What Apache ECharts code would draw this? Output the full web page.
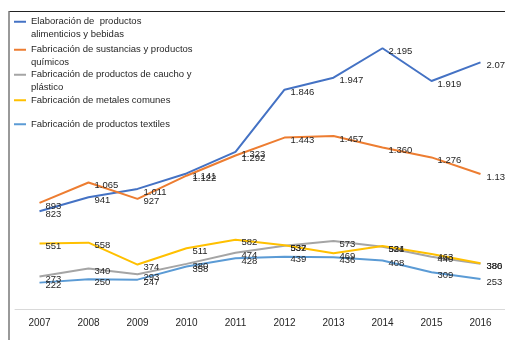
<!DOCTYPE html>
<html><head><meta charset="utf-8">
<script src="https://cdn.jsdelivr.net/npm/echarts@6/dist/echarts.min.js"></script>
<style>html,body{margin:0;padding:0;background:#fff}#c{width:505px;height:340px}</style>
</head><body><div id="c"></div>
<script>
var years = ['2007','2008','2009','2010','2011','2012','2013','2014','2015','2016'];
var alimentos = [823, 941, 1011, 1141, 1323, 1846, 1947, 2195, 1919, 2076];
var quimicos = [893, 1065, 927, 1122, 1292, 1443, 1457, 1360, 1276, 1136];
var caucho = [273, 340, 293, 380, 474, 532, 573, 524, 440, 380];
var metales = [551, 558, 374, 511, 582, 537, 469, 531, 463, 386];
var textiles = [222, 250, 247, 358, 428, 439, 436, 408, 309, 253];
var names = ['Elaboración de  productos\nalimenticios y bebidas',
  'Fabricación de sustancias y productos\nquímicos',
  'Fabricación de productos de caucho y\nplástico',
  'Fabricación de metales comunes',
  'Fabricación de productos textiles'];
var colors = ['#4472C4', '#ED7D31', '#A5A5A5', '#FFC000', '#5B9BD5'];
var datasets = [alimentos, quimicos, caucho, metales, textiles];
var FONT = 'Liberation Sans';
function fmt(v){ if (v >= 1000){ var r = String(v % 1000); while (r.length < 3) r = '0' + r; return Math.floor(v/1000) + '.' + r; } return String(v); }
var legendTops = [3, 31, 56, 94, 118];
var legends = names.map(function(n, i){
  var two = n.indexOf('\n') >= 0;
  return {
    data: [{name: n, icon: 'rect'}], left: 14, top: legendTops[i], orient: 'vertical', padding: 0,
    itemWidth: 12, itemHeight: 2, selectedMode: false,
    formatter: function(name){ return two ? ' \n' + name : name; },
    textStyle: {fontFamily: FONT, fontSize: 9.5, color: '#262626', lineHeight: 12.5}
  };
});
var chart = echarts.init(document.getElementById('c'));
chart.setOption({
  animation: false,
  color: colors,
  legend: legends,
  grid: {left: 15, right: -2, top: 12, bottom: 31},
  xAxis: {type: 'category', data: years, boundaryGap: true,
    axisLine: {lineStyle: {color: '#D9D9D9', width: 1}}, axisTick: {show: false},
    axisLabel: {fontFamily: FONT, fontSize: 10, color: '#262626', margin: 9}},
  yAxis: {type: 'value', min: 0, max: 2500, show: false, splitLine: {show: false}},
  graphic: [
    {type: 'line', shape: {x1: 9, y1: 11.5, x2: 505, y2: 11.5}, style: {stroke: '#222', lineWidth: 1}},
    {type: 'line', shape: {x1: 9, y1: 11, x2: 9, y2: 340}, style: {stroke: '#777', lineWidth: 1.5}}
  ],
  series: datasets.map(function(d, i){
    return {name: names[i], type: 'line', data: d, showSymbol: true, symbol: 'circle', symbolSize: 0,
      lineStyle: {width: 2, color: colors[i]}, itemStyle: {color: colors[i]},
      labelLayout: {hideOverlap: false, dx: 1, dy: 3},
      label: {show: true, position: 'right', distance: 5, fontFamily: FONT, fontSize: 9.5, color: '#262626',
        formatter: function(p){ return fmt(p.value); }},
      z: 2};
  })
});
</script></body></html>
